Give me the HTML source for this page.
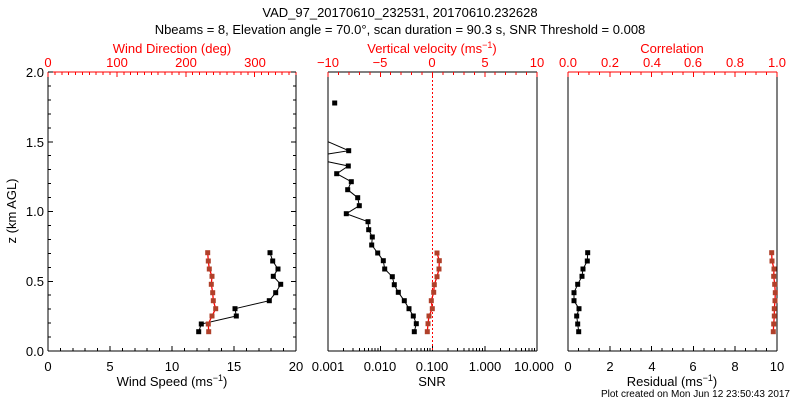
<!DOCTYPE html>
<html><head><meta charset="utf-8"><style>
body{margin:0;background:#fff;}
svg text{font-family:"Liberation Sans",sans-serif;}
</style></head><body>
<svg id="s" width="800" height="400" xmlns="http://www.w3.org/2000/svg" shape-rendering="crispEdges">
<rect width="800" height="400" fill="#fff"/>
<text x="400" y="17" font-size="13" text-anchor="middle">VAD_97_20170610_232531, 20170610.232628</text>
<text x="400" y="34" font-size="13" text-anchor="middle">Nbeams = 8, Elevation angle = 70.0°, scan duration = 90.3 s, SNR Threshold = 0.008</text>
<g font-size="13" fill="#f00" text-anchor="middle">
<text x="172" y="53">Wind Direction (deg)</text>
<text x="432" y="53">Vertical velocity (ms<tspan font-size="9" dy="-5">−1</tspan><tspan dy="5">)</tspan></text>
<text x="672" y="53">Correlation</text>
<text x="48" y="67">0</text><text x="117" y="67">100</text><text x="186" y="67">200</text><text x="255" y="67">300</text>
<text x="328" y="67">−10</text><text x="380" y="67">−5</text><text x="432" y="67">0</text><text x="485" y="67">5</text><text x="537" y="67">10</text>
<text x="568" y="67">0.0</text><text x="610" y="67">0.2</text><text x="652" y="67">0.4</text><text x="693" y="67">0.6</text><text x="735" y="67">0.8</text><text x="777" y="67">1.0</text>
</g>
<g font-size="13" text-anchor="middle">
<text x="48" y="371">0</text><text x="110" y="371">5</text><text x="172" y="371">10</text><text x="234" y="371">15</text><text x="296" y="371">20</text>
<text x="328" y="371">0.001</text><text x="380" y="371">0.010</text><text x="432" y="371">0.100</text><text x="485" y="371">1.000</text><text x="534" y="371">10.000</text>
<text x="568" y="371">0</text><text x="610" y="371">2</text><text x="652" y="371">4</text><text x="693" y="371">6</text><text x="735" y="371">8</text><text x="777" y="371">10</text>
<text x="172" y="386">Wind Speed (ms<tspan font-size="9" dy="-5">−1</tspan><tspan dy="5">)</tspan></text>
<text x="432" y="386">SNR</text>
<text x="672" y="386">Residual (ms<tspan font-size="9" dy="-5">−1</tspan><tspan dy="5">)</tspan></text>
</g>
<g font-size="13" text-anchor="end">
<text x="44" y="356">0.0</text><text x="44" y="286">0.5</text><text x="44" y="216">1.0</text><text x="44" y="147">1.5</text><text x="44" y="77">2.0</text>
</g>
<text font-size="13" text-anchor="middle" transform="translate(16,211) rotate(-90)">z (km AGL)</text>
<text x="790" y="397" font-size="10" text-anchor="end">Plot created on Mon Jun 12 23:50:43 2017</text>
<g id="ax" fill="none" stroke-width="1"></g>
<g id="dat" shape-rendering="auto"></g>
</svg>
<script>
var ax=document.getElementById('ax'),dat=document.getElementById('dat');
function L(x1,y1,x2,y2,c,d){var e=document.createElementNS('http://www.w3.org/2000/svg','line');e.setAttribute('x1',x1);e.setAttribute('y1',y1);e.setAttribute('x2',x2);e.setAttribute('y2',y2);e.setAttribute('stroke',c);if(d)e.setAttribute('stroke-dasharray',d);ax.appendChild(e);}
var T=72,B=351;
function box(l,r,topc){L(l,T,r,T,topc);L(l,B,r,B,'#000');L(l,T,l,B,'#000');L(r,T,r,B,'#000');}
function ticks(l,r,n,maj,y,dir,c){for(var i=0;i<=n;i++){var x=l+(r-l)*i/n;var len=(i%maj==0)?5:3;L(x,y,x,y+dir*len,c);}}
box(48,296,'#f00');box(328,537,'#000');box(568,777,'#f00');
ticks(48,296,36,10,T,1,'#f00');ticks(48,296,20,5,B,-1,'#000');
ticks(328,537,20,5,T,1,'#f00');ticks(568,777,20,4,B,-1,'#000');ticks(568,777,20,4,T,1,'#f00');
for(var d=0;d<4;d++){for(var k=1;k<10;k++){var x=328+52.25*(d+Math.log10(k));L(x,B,x,B-(k==1?5:3),'#000');}}L(537,B,537,B-5,'#000');
for(var i=0;i<=20;i++){var y=B-(B-T)*i/20;var len=i%5==0?5:3;L(48,y,48+len,y,'#000');L(296,y,296-len,y,'#000');}
L(432.5,T,432.5,B,'#f00','2,2');
function S(pts,lc,mc){var p=document.createElementNS('http://www.w3.org/2000/svg','polyline');p.setAttribute('points',pts.map(function(a){return a[0]+','+a[1]}).join(' '));p.setAttribute('fill','none');p.setAttribute('stroke',lc);p.setAttribute('stroke-width',lc=='#f00'?1.3:1);dat.appendChild(p);
pts.forEach(function(a){if(a[2])return;var r=document.createElementNS('http://www.w3.org/2000/svg','rect');r.setAttribute('x',a[0]-2.5);r.setAttribute('y',a[1]-2.5);r.setAttribute('width',5);r.setAttribute('height',5);r.setAttribute('fill',mc);dat.appendChild(r);});}
var ys=[252.7,261,269,276.3,284.3,292.7,300.7,308.7,316,324,331.7];
S([270,272.7,278,273.3,280.7,275.7,269.3,235,236.3,201.3,198.7].map(function(x,i){return[x,ys[i]]}),'#000','#000');
S([207.7,208.3,209.3,212,211.3,212.7,213.3,215.7,212,208.3,208.7].map(function(x,i){return[x,ys[i]]}),'#f00','#b0402a');
S([587.7,587.3,583,582,577.7,574,574,579,576.7,577.7,578.7].map(function(x,i){return[x,ys[i]]}),'#000','#000');
S([771.7,772,774,773.7,774.7,775.3,775,774.3,774.3,773.7,773.3].map(function(x,i){return[x,ys[i]]}),'#f00','#b0402a');
S([[334.7,103]],'#000','#000');
S([[328,141.7,1],[348.7,150.7],[328,154,1]],'#000','#000');
S([[328,161.7,1],[348.3,166],[336.7,173.7],[351.3,181.7],[347.7,189.7],[357.7,197.7],[359.3,205.7],[346.3,213.7],[368,221.7],[368.7,229.7],[372.3,237],[371.7,245],[377.7,253],[383.3,260.7],[384.7,269],[392.3,276.7],[394.3,284.7],[398.3,292.3],[404.3,300.7],[409,308.7],[413.3,316],[416.3,323.7],[414.3,331.7]],'#000','#000');
S([[437,253],[439.3,260.7],[439,269],[437,276.7],[434.3,284.7],[433.7,292.3],[431.3,300.7],[432.3,308.7],[429,316],[428,323.7],[427.3,331.7]],'#f00','#b0402a');
</script>
</body></html>
